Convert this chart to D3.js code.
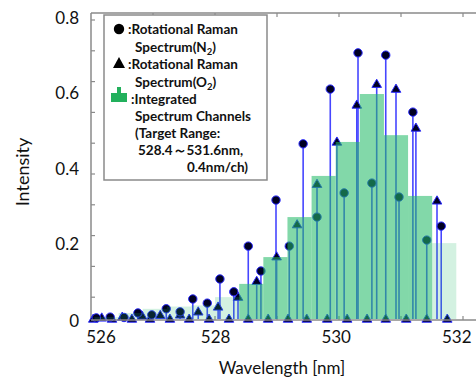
<!DOCTYPE html>
<html><head><meta charset="utf-8">
<script src="https://cdn.jsdelivr.net/npm/d3@7/dist/d3.min.js"></script>
<style>html,body{margin:0;padding:0;background:#fff;}svg{display:block;}</style>
</head><body>
<svg id="chart" width="476" height="381"></svg>
<script>
// ---- data ----
const n2Wavelength = [526.03, 526.26, 526.49, 526.72, 526.95, 527.19, 527.42, 527.63, 527.87, 528.08, 528.31, 528.55, 528.76, 529.01, 529.23, 529.46, 529.69, 529.91, 530.14, 530.37, 530.60, 530.83, 531.05, 531.28, 531.51, 531.75];
const n2Intensity = [0.003, 0.005, 0.004, 0.016, 0.011, 0.027, 0.019, 0.053, 0.042, 0.106, 0.072, 0.193, 0.127, 0.315, 0.193, 0.464, 0.270, 0.609, 0.334, 0.705, 0.360, 0.699, 0.323, 0.548, 0.209, 0.246];
const o2Wavelength = [525.98, 526.12, 526.29, 526.46, 526.62, 526.79, 526.92, 527.09, 527.25, 527.42, 527.57, 527.72, 527.90, 528.05, 528.23, 528.38, 528.55, 528.69, 528.88, 529.02, 529.21, 529.36, 529.52, 529.69, 529.86, 530.02, 530.19, 530.35, 530.52, 530.68, 530.83, 531.00, 531.17, 531.33, 531.51, 531.68, 531.85];
const o2Intensity = [0, 0.003, 0, 0.005, 0, 0.008, 0, 0.010, 0, 0.011, 0, 0.019, 0, 0.032, 0, 0.058, 0, 0.100, 0, 0.165, 0, 0.250, 0, 0.357, 0, 0.469, 0, 0.567, 0, 0.622, 0, 0.609, 0, 0.506, 0, 0.313, 0];
const channelStart = [526.0, 526.4, 526.8, 527.2, 527.6, 528.0, 528.4, 528.8, 529.2, 529.6, 530.0, 530.4, 530.8, 531.2, 531.6];
const channelValue = [0.005, 0.016, 0.027, 0.033, 0.036, 0.058, 0.093, 0.164, 0.270, 0.379, 0.469, 0.596, 0.487, 0.326, 0.201];
const channelWidth = 0.4;
const targetRange = [528.4, 531.6];
const xTickLabels = [526, 528, 530, 532];
const yTickLabels = [0, 0.2, 0.4, 0.6, 0.8];

// ---- layout ----
const svg = d3.select('#chart');
const FONT = 'Lato, "Open Sans", sans-serif';
const pLeft = 91, pRight = 476, pTop = 13, pBottom = 320;
const x = d3.scaleLinear().domain([526, 532]).range([94.5, 456.3]);
const y = d3.scaleLinear().domain([0, 0.8]).range([319, 17]);
const xMinor = d3.scaleLinear().domain([526, 532]).range([91, 463]);
const yMinor = d3.scaleLinear().domain([0, 1]).range([328, 20]);
const axisColor = '#8a8a8a';

// frame lines
svg.append('line').attr('x1', pLeft).attr('x2', pRight).attr('y1', pTop).attr('y2', pTop).attr('stroke', axisColor).attr('stroke-width', 1.5);
svg.append('line').attr('x1', pLeft).attr('x2', pLeft).attr('y1', pTop).attr('y2', pBottom).attr('stroke', axisColor).attr('stroke-width', 1.5);

// minor ticks
const tk = svg.append('g').attr('stroke', axisColor).attr('stroke-width', 1.2);
d3.range(527, 533).forEach(v => {
  const xx = xMinor(v);
  tk.append('line').attr('x1', xx).attr('x2', xx).attr('y1', pTop).attr('y2', pTop + 4);
  tk.append('line').attr('x1', xx).attr('x2', xx).attr('y1', pBottom).attr('y2', pBottom - 4);
});
d3.range(1, 11).forEach(i => {
  const yy = yMinor(i / 10);
  tk.append('line').attr('x1', pLeft).attr('x2', pLeft + 4).attr('y1', yy).attr('y2', yy);
});

// stems + markers
const stemColor = '#4646ff';
const n2 = n2Wavelength.map((w, i) => ({w, v: n2Intensity[i]}));
const o2 = o2Wavelength.map((w, i) => ({w, v: o2Intensity[i]}));
const gStem = svg.append('g');
[...n2, ...o2].filter(d => d.v > 0).forEach(d => {
  gStem.append('line').attr('x1', x(d.w)).attr('x2', x(d.w)).attr('y1', y(0)).attr('y2', y(d.v))
    .attr('stroke', stemColor).attr('stroke-width', 1.6);
});
const gMark = svg.append('g');
o2.forEach(d => {
  gMark.append('path').attr('d', 'M0,-5L4.8,3.2L-4.8,3.2Z')
    .attr('transform', `translate(${x(d.w)},${y(d.v)})`)
    .attr('fill', '#000022').attr('stroke', '#2a2aff').attr('stroke-width', 1);
});
n2.forEach(d => {
  gMark.append('circle').attr('cx', x(d.w)).attr('cy', y(d.v)).attr('r', 4.2)
    .attr('fill', '#000022').attr('stroke', '#2a2aff').attr('stroke-width', 1);
});

// bars (semi-transparent, over the markers)
const gBar = svg.append('g');
channelStart.forEach((s, i) => {
  const inTarget = s >= targetRange[0] - 1e-6 && s + channelWidth <= targetRange[1] + 1e-6;
  gBar.append('rect')
    .attr('x', x(s)).attr('width', x(s + channelWidth) - x(s))
    .attr('y', y(channelValue[i])).attr('height', y(0) - y(channelValue[i]))
    .attr('fill', 'rgb(36,186,104)').attr('opacity', inTarget ? 0.57 : 0.2);
});

// bottom axis line
svg.append('line').attr('x1', pLeft).attr('x2', pRight).attr('y1', pBottom).attr('y2', pBottom).attr('stroke', axisColor).attr('stroke-width', 1.5);

// x tick labels
const xAxis = svg.append('g').attr('transform', `translate(0,${pBottom})`)
  .call(d3.axisBottom(x).tickValues(xTickLabels).tickSize(0).tickPadding(11).tickFormat(d3.format('d')));
xAxis.select('.domain').remove();
xAxis.selectAll('text').attr('font-family', FONT).attr('font-size', 17).attr('fill', '#111');
xAxis.selectAll('.tick').filter(d => d === 526).attr('transform', 'translate(101,0)');

// y tick labels
const yAxis = svg.append('g').attr('transform', `translate(79,0)`)
  .call(d3.axisLeft(y).tickValues(yTickLabels).tickSize(0).tickPadding(0).tickFormat(d => d === 0 ? '0' : d3.format('.1f')(d)));
yAxis.select('.domain').remove();
yAxis.selectAll('text').attr('font-family', FONT).attr('font-size', 17).attr('fill', '#111').attr('dy', '0.38em');
yAxis.selectAll('.tick').filter(d => d === 0).attr('transform', `translate(0,${y(0) + 2})`);

// axis titles
svg.append('text').attr('x', 282).attr('y', 374).attr('text-anchor', 'middle')
  .attr('font-family', FONT).attr('font-size', 17).attr('fill', '#111').text('Wavelength [nm]');
svg.append('text').attr('transform', 'translate(29,172) rotate(-90)').attr('text-anchor', 'middle')
  .attr('font-family', FONT).attr('font-size', 18).attr('fill', '#111').text('Intensity');

// legend
const lg = svg.append('g');
lg.append('rect').attr('x', 104).attr('y', 15).attr('width', 163).attr('height', 165)
  .attr('fill', '#fff').attr('stroke', '#8a8a8a').attr('stroke-width', 1.5);
lg.append('circle').attr('cx', 119).attr('cy', 29).attr('r', 5.2).attr('fill', '#000');
lg.append('path').attr('d', 'M119,57L125,68L113,68Z').attr('fill', '#000');
lg.append('path').attr('d', 'M117,87L121,87L121,93L127,93L127,102L111,102L111,93L117,93Z').attr('fill', '#22b05c');
const lines = [
  {x: 128, y: 34, t: ':Rotational Raman'},
  {x: 135, y: 52, t: 'Spectrum(N', sub: '2', after: ')'},
  {x: 128, y: 69, t: ':Rotational Raman'},
  {x: 135, y: 87, t: 'Spectrum(O', sub: '2', after: ')'},
  {x: 131, y: 104, t: ':Integrated'},
  {x: 135, y: 121, t: 'Spectrum Channels'},
  {x: 135, y: 138, t: '(Target Range:'},
  {x: 138, y: 155, t: '528.4～531.6nm,'},
  {x: 187, y: 172, t: '0.4nm/ch)'}
];
lines.forEach(l => {
  const t = lg.append('text').attr('x', l.x).attr('y', l.y)
    .attr('font-family', FONT).attr('font-size', 13.5).attr('font-weight', 'bold').attr('fill', '#111');
  t.append('tspan').text(l.t);
  if (l.sub) {
    t.append('tspan').attr('font-size', 9.5).attr('dy', 3).text(l.sub);
    t.append('tspan').attr('dy', -3).text(l.after);
  }
});
</script>
</body></html>
